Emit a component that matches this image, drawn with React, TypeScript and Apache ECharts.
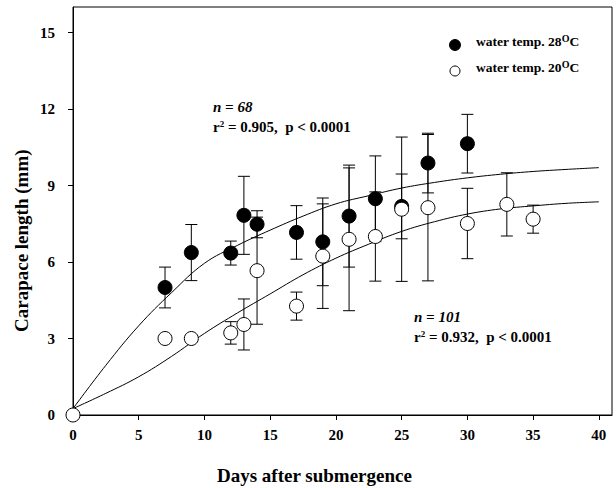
import React, { useEffect, useRef } from "react";
import * as echarts from "echarts";

// 28 °C group (filled circles)
const days28 = [7, 9, 12, 13, 14, 17, 19, 21, 23, 25, 27, 30];
const mean28 = [5.0, 6.37, 6.35, 7.83, 7.48, 7.16, 6.79, 7.8, 8.48, 8.18, 9.88, 10.64];
const sd28 = [0.8, 1.1, 0.47, 1.53, 0.53, 1.05, 1.72, 2.0, 1.68, 1.27, 1.17, 1.15];

// 20 °C group (open circles)
const days20 = [0, 7, 9, 12, 13, 14, 17, 19, 21, 23, 25, 27, 30, 33, 35];
const mean20 = [0, 3.0, 3.0, 3.22, 3.55, 5.66, 4.27, 6.23, 6.89, 7.0, 8.07, 8.13, 7.51, 8.26, 7.68];
const sd20 = [0, 0, 0, 0.44, 1.0, 2.1, 0.55, 2.05, 2.8, 1.75, 2.83, 2.87, 1.38, 1.24, 0.55];

// fitted growth curves
const curveDays = [0, 2.5, 5, 7.5, 10, 12.5, 15, 17.5, 20, 22.5, 25, 27.5, 30, 32.5, 35, 37.5, 40];
const curve28 = [0.25, 1.95, 3.5, 4.8, 5.95, 6.65, 7.25, 7.8, 8.28, 8.6, 8.9, 9.12, 9.3, 9.44, 9.55, 9.63, 9.7];
const curve20 = [0.25, 0.85, 1.5, 2.3, 3.2, 4.0, 4.75, 5.5, 6.15, 6.7, 7.2, 7.58, 7.88, 8.08, 8.2, 8.3, 8.36];

const xTicks = [0, 5, 10, 15, 20, 25, 30, 35, 40];
const yTicks = [0, 3, 6, 9, 12, 15];

const FONT = "'Liberation Serif', 'Times New Roman', serif";

function errorBars(days: number[], mean: number[], sd: number[]) {
  return days.map((d, i) => [d, mean[i] - sd[i], mean[i] + sd[i]]).filter((v, i) => sd[i] > 0);
}

const errRender = (params: any, api: any) => {
  const x = api.value(0);
  const lo = api.coord([x, api.value(1)]);
  const hi = api.coord([x, api.value(2)]);
  const hw = 6;
  const style = { stroke: "#000", lineWidth: 1 };
  return {
    type: "group",
    children: [
      { type: "line", shape: { x1: lo[0], y1: lo[1], x2: hi[0], y2: hi[1] }, style },
      { type: "line", shape: { x1: lo[0] - hw, y1: lo[1], x2: lo[0] + hw, y2: lo[1] }, style },
      { type: "line", shape: { x1: hi[0] - hw, y1: hi[1], x2: hi[0] + hw, y2: hi[1] }, style },
    ],
  };
};

export default function App() {
  const ref = useRef<HTMLDivElement>(null);
  useEffect(() => {
    if (!ref.current) return;
    const chart = echarts.init(ref.current, null, { renderer: "svg" });
    const rich = {
      b: { fontFamily: FONT, fontWeight: "bold", fontSize: 15, color: "#000" },
      bi: { fontFamily: FONT, fontWeight: "bold", fontStyle: "italic", fontSize: 15, color: "#000" },
      sup: { fontFamily: FONT, fontWeight: "bold", fontSize: 9, color: "#000", padding: [0, 0, 7, 0] },
      lb: { fontFamily: FONT, fontWeight: "bold", fontSize: 13.5, color: "#000" },
      lsup: { fontFamily: FONT, fontWeight: "bold", fontSize: 10, color: "#000", padding: [0, 0, 7, 0] },
    };
    chart.setOption({
      animation: false,
      backgroundColor: "#fff",
      grid: { left: 73, right: 4, top: 7, bottom: 73, show: true, borderColor: "#000", borderWidth: 1 },
      xAxis: {
        type: "value",
        min: 0,
        max: 41,
        interval: 5,
        axisLine: { show: true, lineStyle: { color: "#000", width: 1 } },
        axisTick: { show: true, length: 5, lineStyle: { color: "#000" }, customValues: xTicks },
        axisLabel: {
          customValues: xTicks,
          margin: 12,
          fontFamily: FONT,
          fontWeight: "bold",
          fontSize: 15,
          color: "#000",
        },
        splitLine: { show: false },
      },
      yAxis: {
        type: "value",
        min: 0,
        max: 16,
        interval: 3,
        axisLine: { show: true, lineStyle: { color: "#000", width: 1 } },
        axisTick: { show: true, length: 5, lineStyle: { color: "#000" }, customValues: yTicks },
        axisLabel: {
          customValues: yTicks,
          margin: 18,
          fontFamily: FONT,
          fontWeight: "bold",
          fontSize: 15,
          color: "#000",
        },
        splitLine: { show: false },
      },
      graphic: [
        {
          type: "text",
          left: 217,
          top: 466,
          style: { text: "Days after submergence", font: `bold 19px ${FONT}`, fill: "#000" },
        },
        {
          type: "text",
          x: 12,
          y: 332,
          rotation: Math.PI / 2,
          style: { text: "Carapace length (mm)", font: `bold 19px ${FONT}`, fill: "#000", textVerticalAlign: "top" },
        },
        {
          type: "text",
          left: 213,
          top: 97,
          style: {
            text: "{bi|n = 68}\n{b|r}{sup|2}{b| = 0.905,  p < 0.0001}",
            rich,
            lineHeight: 20,
          },
        },
        {
          type: "text",
          left: 414,
          top: 307,
          style: {
            text: "{bi|n = 101}\n{b|r}{sup|2}{b| = 0.932,  p < 0.0001}",
            rich,
            lineHeight: 20,
          },
        },
        { type: "circle", shape: { cx: 455, cy: 45, r: 5.5 }, style: { fill: "#000", stroke: "#000" } },
        { type: "circle", shape: { cx: 455, cy: 71, r: 5 }, style: { fill: "#fff", stroke: "#000", lineWidth: 1 } },
        {
          type: "text",
          left: 476,
          top: 33,
          style: { text: "{lb|water temp. 28}{lsup|O}{lb|C}", rich },
        },
        {
          type: "text",
          left: 476,
          top: 59,
          style: { text: "{lb|water temp. 20}{lsup|O}{lb|C}", rich },
        },
      ],
      series: [
        {
          type: "line",
          data: curveDays.map((d, i) => [d, curve28[i]]),
          smooth: 0.4,
          showSymbol: false,
          symbol: "none",
          lineStyle: { color: "#000", width: 1 },
          z: 1,
        },
        {
          type: "line",
          data: curveDays.map((d, i) => [d, curve20[i]]),
          smooth: 0.4,
          showSymbol: false,
          symbol: "none",
          lineStyle: { color: "#000", width: 1 },
          z: 1,
        },
        {
          type: "custom",
          renderItem: errRender,
          data: errorBars(days28, mean28, sd28),
          z: 2,
        },
        {
          type: "custom",
          renderItem: errRender,
          data: errorBars(days20, mean20, sd20),
          z: 2,
        },
        {
          type: "scatter",
          name: "water temp. 28°C",
          data: days28.map((d, i) => [d, mean28[i]]),
          symbol: "circle",
          symbolSize: 14,
          itemStyle: { color: "#000", borderColor: "#000", borderWidth: 1, opacity: 1 },
          z: 3,
        },
        {
          type: "scatter",
          name: "water temp. 20°C",
          data: days20.map((d, i) => [d, mean20[i]]),
          symbol: "circle",
          symbolSize: 14,
          itemStyle: { color: "#fff", borderColor: "#000", borderWidth: 1, opacity: 1 },
          clip: false,
          z: 4,
        },
      ],
    });
    return () => chart.dispose();
  }, []);
  return <div ref={ref} style={{ position: "fixed", left: 0, top: 0, width: 616, height: 488 }} />;
}
